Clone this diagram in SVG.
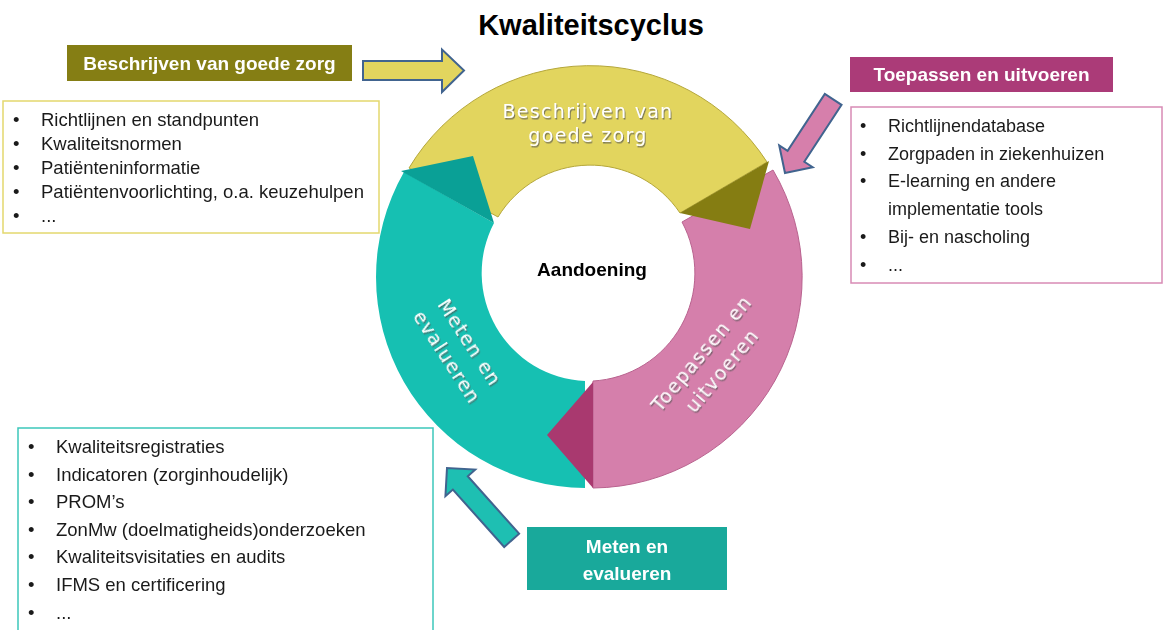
<svg xmlns="http://www.w3.org/2000/svg" width="1164" height="630" viewBox="0 0 1164 630">
<style>
.title{font-family:"Liberation Sans",Arial,sans-serif;font-weight:bold;font-size:29px;fill:#000;text-anchor:middle}
.hdr{font-family:"Liberation Sans",Arial,sans-serif;font-weight:bold;font-size:19px;fill:#fff;text-anchor:middle}
.item{font-family:"Liberation Sans",Arial,sans-serif;font-size:18.5px;fill:#1a1a1a}
.item2{font-family:"Liberation Sans",Arial,sans-serif;font-size:18px;fill:#1a1a1a}
.ring{font-family:"DejaVu Sans","Liberation Sans",sans-serif;font-size:19px;fill:#fff;letter-spacing:1.3px;text-anchor:middle}
.center{font-family:"Liberation Sans",Arial,sans-serif;font-weight:bold;font-size:19px;fill:#000;text-anchor:middle}
.arrow{stroke:#41648f;stroke-width:2;stroke-linejoin:miter}
</style>
<defs>
<filter id="sh" x="-10%" y="-30%" width="120%" height="160%">
<feDropShadow dx="1" dy="1.5" stdDeviation="0.7" flood-color="#555" flood-opacity="0.7"/>
</filter>
<polygon id="arrPink" points="0,0 -20,-20 -20,-10 -88,-10 -88,10 -20,10 -20,20"/>
<polygon id="arrTeal" points="0,0 -20,-20 -20,-10 -97,-10 -97,10 -20,10 -20,20"/>
</defs>
<rect width="1164" height="630" fill="#fff"/>

<text class="title" x="591" y="35">Kwaliteitscyclus</text>

<g id="ring">
<g id="seg-toepassen">
<path d="M773,170 A211,211 0 0 1 593,488 L593,381 A108,108 0 0 0 682,222 Z" fill="#d57fab" stroke="#b9638f" stroke-width="1"/>
</g>
<g id="seg-meten">
<path d="M585,488 A211,211 0 0 1 404,172 L494,223 A108,108 0 0 0 585,381 Z" fill="#16c0b2"/>
</g>
<g id="seg-beschrijven">
<path d="M409,168 A211,211 0 0 1 767,162 L680,213 A108,108 0 0 0 498,217 Z" fill="#e2d55e" stroke="#b5a73a" stroke-width="1"/>
</g>
<polygon points="680,213 769,161 750,229" fill="#857d12"/>
<polygon points="593,382 547,435 593,488" fill="#a9396f"/>
<polygon points="401,171 473,156 494,223" fill="#0aa096"/>
<g filter="url(#sh)">
<text class="ring" x="588" y="118">Beschrijven van</text>
<text class="ring" x="588" y="142">goede zorg</text>
<g transform="translate(712,362) rotate(-50)">
<text class="ring" x="0" y="-7">Toepassen en</text>
<text class="ring" x="0" y="20">uitvoeren</text>
</g>
<g transform="translate(458,350) rotate(57)">
<text class="ring" x="0" y="-7">Meten en</text>
<text class="ring" x="0" y="20">evalueren</text>
</g>
</g>
</g>

<g id="node-aandoening">
<text class="center" x="592" y="276">Aandoening</text>
</g>

<g id="node-hdr-beschrijven">
<rect x="67" y="45" width="285" height="36" fill="#857e14"/>
<text class="hdr" x="209.5" y="70">Beschrijven van goede zorg</text>
</g>

<g id="node-list-beschrijven">
<rect x="3" y="101" width="376" height="132" fill="#fff" stroke="#e3d86e" stroke-width="1.5"/>
<text class="item" x="13" y="126">•</text><text class="item" x="41" y="126">Richtlijnen en standpunten</text>
<text class="item" x="13" y="150">•</text><text class="item" x="41" y="150">Kwaliteitsnormen</text>
<text class="item" x="13" y="174">•</text><text class="item" x="41" y="174">Patiënteninformatie</text>
<text class="item" x="13" y="198">•</text><text class="item" x="41" y="198">Patiëntenvoorlichting, o.a. keuzehulpen</text>
<text class="item" x="13" y="222">•</text><text class="item" x="41" y="222">...</text>
</g>

<g id="node-hdr-toepassen">
<rect x="850" y="57" width="263" height="35" fill="#ab3b78"/>
<text class="hdr" x="981.5" y="81">Toepassen en uitvoeren</text>
</g>

<g id="node-list-toepassen">
<rect x="851" y="107" width="311" height="176" fill="#fff" stroke="#d88bb5" stroke-width="1.5"/>
<text class="item2" x="860" y="132">•</text><text class="item2" x="888" y="132">Richtlijnendatabase</text>
<text class="item2" x="860" y="160">•</text><text class="item2" x="888" y="160">Zorgpaden in ziekenhuizen</text>
<text class="item2" x="860" y="187">•</text><text class="item2" x="888" y="187">E-learning en andere</text>
<text class="item2" x="888" y="215">implementatie tools</text>
<text class="item2" x="860" y="243">•</text><text class="item2" x="888" y="243">Bij- en nascholing</text>
<text class="item2" x="860" y="271">•</text><text class="item2" x="888" y="271">...</text>
</g>

<g id="node-hdr-meten">
<rect x="527" y="527" width="200" height="63" fill="#19a99b"/>
<text class="hdr" x="627" y="553">Meten en</text>
<text class="hdr" x="627" y="580">evalueren</text>
</g>

<g id="node-list-meten">
<rect x="18" y="428" width="415" height="215" fill="#fff" stroke="#3cc7bb" stroke-width="1.5"/>
<text class="item" x="28" y="453">•</text><text class="item" x="56" y="453">Kwaliteitsregistraties</text>
<text class="item" x="28" y="481">•</text><text class="item" x="56" y="481">Indicatoren (zorginhoudelijk)</text>
<text class="item" x="28" y="508">•</text><text class="item" x="56" y="508">PROM’s</text>
<text class="item" x="28" y="536">•</text><text class="item" x="56" y="536">ZonMw (doelmatigheids)onderzoeken</text>
<text class="item" x="28" y="563">•</text><text class="item" x="56" y="563">Kwaliteitsvisitaties en audits</text>
<text class="item" x="28" y="591">•</text><text class="item" x="56" y="591">IFMS en certificering</text>
<text class="item" x="28" y="619">•</text><text class="item" x="56" y="619">...</text>
</g>

<g id="connectors">
<polygon class="arrow" fill="#e2d55e" points="363,61 442,61 442,49.5 464,70.5 442,92 442,80 363,80"/>
<use href="#arrPink" class="arrow" fill="#d67fab" transform="translate(785,173) rotate(123.2)"/>
<use href="#arrTeal" class="arrow" fill="#1ebfb2" transform="translate(447,468) rotate(228.2)"/>
</g>
</svg>
